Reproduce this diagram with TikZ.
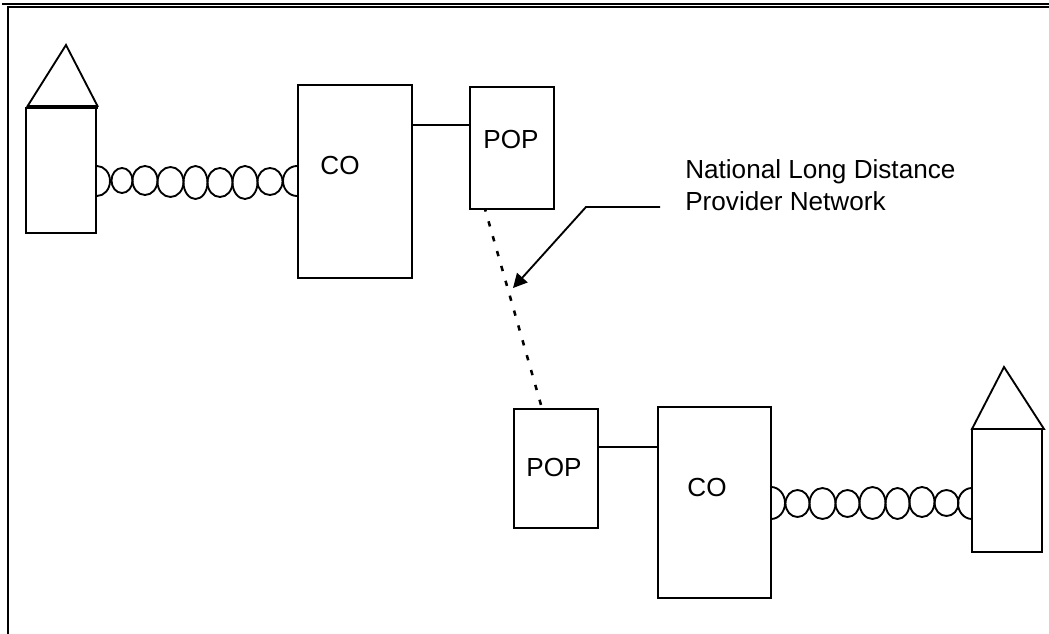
\documentclass[tikz,border=0pt]{standalone}
\usepackage{fontspec}
\setmainfont{Liberation Sans}
\usetikzlibrary{arrows.meta}
\tikzset{
  x=0.75pt,y=-0.75pt,
  line/.style={draw=black,line width=1.4pt},
  lab/.style={font=\fontsize{19.6}{24}\selectfont,text=black,inner sep=0pt},
  coil/.style={draw=black,line width=1.4pt},
}
\newcommand{\boxat}[5]{% name x1 y1 x2 y2
  \path[line] (#2,#3) rectangle (#4,#5);
  \coordinate (#1-nw) at (#2,#3);
  \coordinate (#1-se) at (#4,#5);
}
\newcommand{\coilloop}[4]{% x1 x2 y1 y2
  \draw[coil] ({(#1+#2)/2},{(#3+#4)/2}) ellipse [x radius={(#2-#1)/2+0.5},y radius={(#4-#3)/2}];
}
\begin{document}
\begin{tikzpicture}
\useasboundingbox (0,0) rectangle (1049,634);
\fill[white] (0,0) rectangle (1049,634);
% frame
\fill[black] (2,3.3) rectangle (1049,5.3);
\fill[black] (7,6) rectangle (1049,8);
\fill[black] (7,6) rectangle (9,634);
% left side
\coordinate (hlA) at (66,45);
\coordinate (hlB) at (27,107);
\coordinate (hlC) at (98,107);
\draw[line] (hlB) -- (hlA) -- (hlC);
\draw[black,line width=2.6pt] (hlB) -- (hlC);
\boxat{houseL}{26}{108}{96}{233}
\boxat{coL}{298}{85}{412}{278}
\boxat{popL}{470}{87}{554}{209}
\node[lab] (coLt) at (340,166) {CO};
\node[lab] (popLt) at (511,139.5) {POP};
\coordinate (coLe) at (412,125);
\coordinate (popLw) at (470,125);
\draw[line] (coLe) -- (popLw);
% right side
\coordinate (hrA) at (1004,367);
\coordinate (hrB) at (972,429);
\coordinate (hrC) at (1044,429);
\draw[line] (hrB) -- (hrA) -- (hrC) -- cycle;
\boxat{houseR}{972}{429}{1042}{552}
\boxat{coR}{658}{407}{771}{598}
\boxat{popR}{514}{409}{598}{528}
\node[lab] (coRt) at (707,487.5) {CO};
\node[lab] (popRt) at (554,467.5) {POP};
\coordinate (popRe) at (598,447);
\coordinate (coRw) at (658,447);
\draw[line] (popRe) -- (coRw);
% dotted link
\coordinate (dotA) at (485,209);
\coordinate (dotB) at (541,405);
\draw[black,line width=1.9pt,dash pattern=on 4pt off 7.6pt,dash phase=2pt] (dotA) -- (dotB);
% callout
\coordinate (callA) at (660,207);
\coordinate (callB) at (586,207);
\coordinate (callC) at (513,288);
\draw[line,-{Triangle[length=10.5pt,width=10.5pt]}] (callA) -- (callB) -- (callC);
\node[lab,align=left,anchor=north west] (calltxt) at (685,159.5) {National Long Distance\\Provider Network};
% coil left
\draw[coil] (97,166) arc [start angle=-90,end angle=90,x radius=13,y radius=15];
\coilloop{112}{132}{168}{193}
\coilloop{133}{157}{166}{195}
\coilloop{158}{183}{167}{197}
\coilloop{184}{207}{166}{199}
\coilloop{208}{232}{168}{197}
\coilloop{233}{257}{166}{199}
\coilloop{258}{282}{168}{195}
\draw[coil] (297,166) arc [start angle=270,end angle=90,x radius=14,y radius=15];
% coil right
\draw[coil] (771,487) arc [start angle=-90,end angle=90,x radius=14,y radius=16];
\coilloop{786}{809}{490}{517}
\coilloop{810}{835}{488}{519}
\coilloop{836}{859}{490}{517}
\coilloop{860}{885}{487}{519}
\coilloop{886}{909}{488}{519}
\coilloop{910}{934}{487}{517}
\coilloop{935}{958}{490}{516}
\draw[coil] (972,488) arc [start angle=270,end angle=90,x radius=14,y radius=15.5];
\end{tikzpicture}
\end{document}
